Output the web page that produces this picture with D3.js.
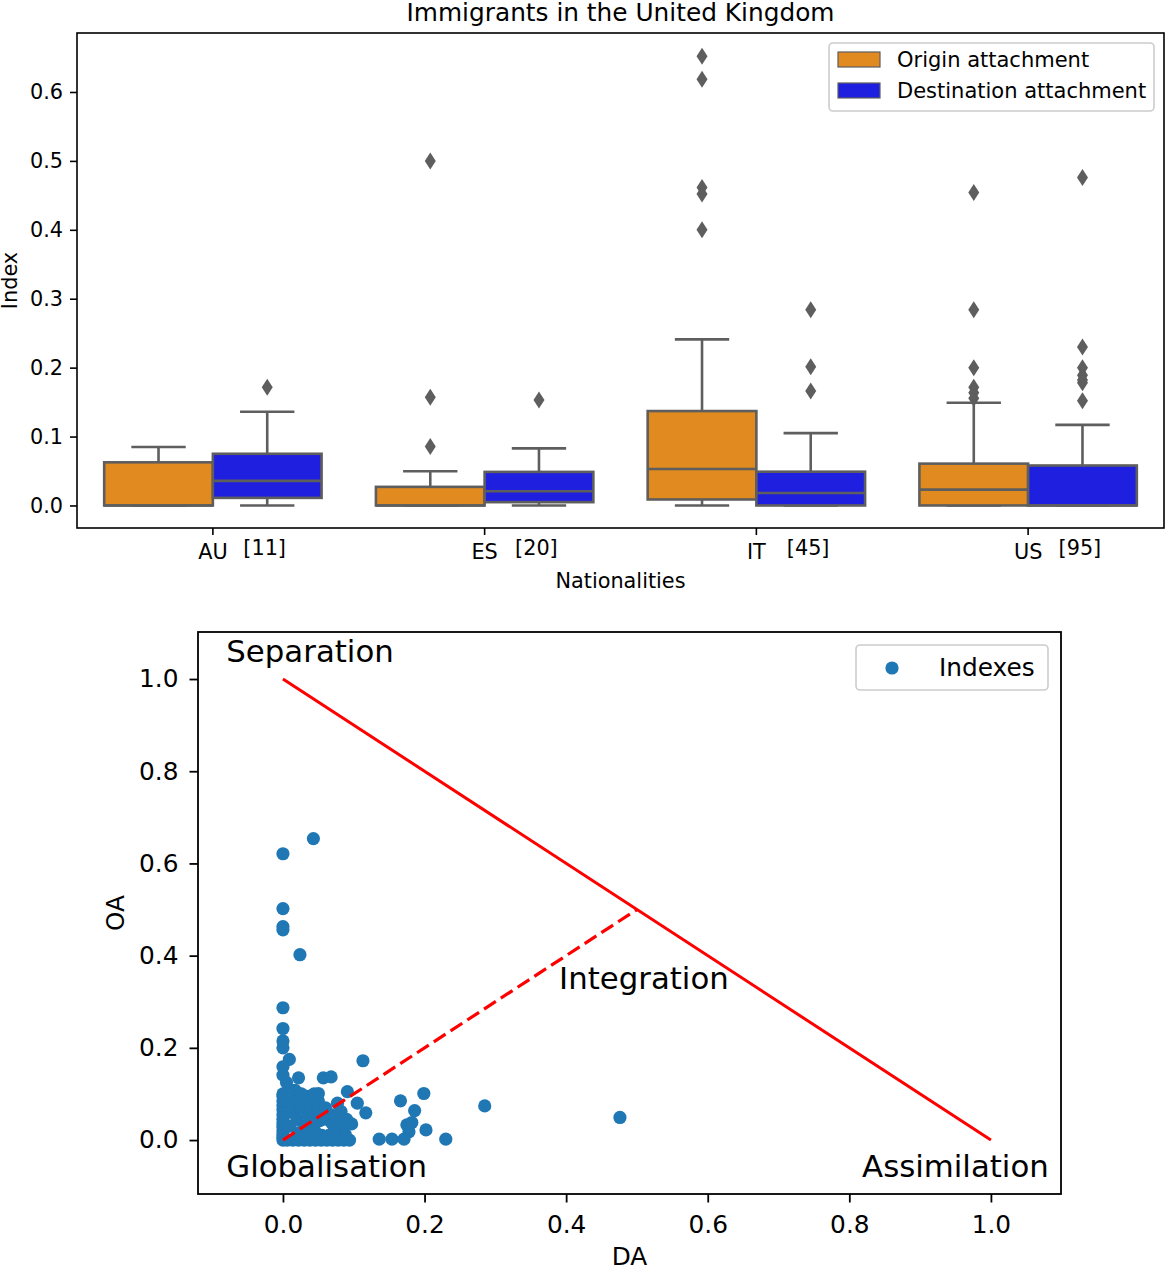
<!DOCTYPE html>
<html><head><meta charset="utf-8">
<script src="https://cdn.jsdelivr.net/npm/d3@7"></script>
<style>
body{margin:0;background:#fff}
svg{display:block}
text{font-family:"DejaVu Sans",sans-serif;fill:#000}
</style>
</head><body>
<svg id="c" width="1166" height="1269"></svg>
<script>
// ---------- DATA ----------
const categories = ["AU", "ES", "IT", "US"];
const categoryCounts = ["[11]", "[20]", "[45]", "[95]"];
const hueNames = ["Origin attachment", "Destination attachment"];
// box stats: [lowWhisker, q1, median, q3, highWhisker]
const originStats = [
  [0, 0, 0, 0.0626, 0.0848],
  [0, 0, 0, 0.027, 0.0496],
  [0, 0.0087, 0.053, 0.137, 0.241],
  [0, 0, 0.023, 0.0607, 0.149]
];
const destinationStats = [
  [0, 0.011, 0.0357, 0.075, 0.136],
  [0, 0.0048, 0.0207, 0.0487, 0.0828],
  [0, 0, 0.018, 0.049, 0.105],
  [0, 0, 0, 0.058, 0.117]
];
const originOutliers = [
  [],
  [0.0857, 0.157, 0.5],
  [0.4, 0.4518, 0.4614, 0.6185, 0.6517],
  [0.1556, 0.1637, 0.1715, 0.2, 0.284, 0.454]
];
const destinationOutliers = [
  [0.1715],
  [0.153],
  [0.166, 0.2013, 0.284],
  [0.152, 0.178, 0.182, 0.189, 0.2, 0.23, 0.476]
];
const topYTicks = [0.0, 0.1, 0.2, 0.3, 0.4, 0.5, 0.6];

// scatter (DA, OA)
const daValues = [
  0.043, 0, 0, 0, 0, 0.024, 0, 0, 0, 0, 0.009, 0, 0, 0.113, 0.022, 0.057, 0.068,
  0.017, 0.05, 0.091, 0.036, 0.166, 0.199, 0.105, 0.117, 0.077, 0.186, 0.057,
  0.175, 0.182, 0.178, 0.202, 0.136, 0.154, 0.171, 0.23, 0.097, 0.083, 0.085,
  0.285, 0.476,
  0, 0, 0, 0, 0, 0, 0, 0, 0, 0, 0, 0, 0,
  0.006, 0.014, 0.022, 0.03, 0.038, 0.046, 0.054, 0.062, 0.07, 0.078, 0.086, 0.094,
  0.01, 0.012, 0.015, 0.02, 0.022, 0.025, 0.03, 0.032, 0.035, 0.038, 0.04, 0.042,
  0.045, 0.048, 0.05, 0.052, 0.055, 0.06, 0.062, 0.065, 0.068, 0.07, 0.072, 0.075,
  0.08, 0.082, 0.088, 0.09, 0.026, 0.044, 0.008, 0.005
];
const oaValues = [
  0.654, 0.621, 0.502, 0.463, 0.456, 0.402, 0.287, 0.242, 0.215, 0.2, 0.175, 0.159, 0.141,
  0.172, 0.135, 0.135, 0.137,
  0.108, 0.101, 0.105, 0.095, 0.085, 0.101, 0.08, 0.059, 0.08, 0.064, 0.061,
  0.033, 0.038, 0.018, 0.022, 0.002, 0.002, 0.002, 0.002, 0.035, 0.043, 0.029,
  0.074, 0.049,
  0, 0.006, 0.012, 0.02, 0.028, 0.036, 0.045, 0.055, 0.065, 0.075, 0.085, 0.095, 0.1,
  0, 0, 0, 0, 0, 0, 0, 0, 0, 0, 0, 0,
  0.03, 0.06, 0.085, 0.045, 0.015, 0.07, 0.03, 0.09, 0.055, 0.012, 0.075, 0.038,
  0.02, 0.06, 0.085, 0.042, 0.01, 0.07, 0.045, 0.01, 0.055, 0.035, 0.012, 0.05,
  0.01, 0.062, 0.012, 0.045, 0.1, 0.1, 0.11, 0.125
];
const borderDA = [0, 1];
const borderOA = [1, 0];
const diagDA = [0, 0.5];
const diagOA = [0, 0.5];
const regionLabels = ["Separation", "Integration", "Globalisation", "Assimilation"];
const regionDA = [-0.08, 0.39, -0.08, 0.818];
const regionOA = [1.037, 0.3275, -0.08, -0.08];
const bottomTicks = [0.0, 0.2, 0.4, 0.6, 0.8, 1.0];

// ---------- STYLE ----------
const hueColors = ["#e08a1f", "#1f1fe0"];
const gray = "#5e5e5e";
const svg = d3.select("#c");

// ---------- TOP: BOXPLOT ----------
const T = {l: 77, r: 1164, t: 33, b: 528};
const xBand = d3.scaleBand().domain(categories).range([T.l, T.r]).padding(0);
const yTop = d3.scaleLinear().domain([-0.0327, 0.6856]).range([T.b, T.t]);
const bw = xBand.bandwidth();
const boxW = bw * 0.4;

const topG = svg.append("g");

const yAxT = topG.append("g").attr("transform", `translate(${T.l},0)`)
  .call(d3.axisLeft(yTop).tickValues(topYTicks).tickFormat(d3.format(".1f")).tickSize(7).tickPadding(7));
yAxT.select(".domain").remove();
yAxT.selectAll("line").attr("stroke", "#000").attr("stroke-width", 1.6);
yAxT.selectAll("text").attr("font-size", "20.8px").attr("font-family", "DejaVu Sans");

const xAxT = topG.append("g").attr("transform", `translate(0,${T.b})`)
  .call(d3.axisBottom(xBand).tickSize(7).tickPadding(9));
xAxT.select(".domain").remove();
xAxT.selectAll("line").attr("stroke", "#000").attr("stroke-width", 1.6);
xAxT.selectAll("text").attr("font-size", "20.8px").attr("font-family", "DejaVu Sans");

topG.selectAll("text.count").data(categories).join("text")
  .attr("class", "count")
  .attr("x", d => xBand(d) + bw / 2 + bw * 0.112)
  .attr("y", 555)
  .attr("font-size", "20.8px")
  .text((d, i) => categoryCounts[i]);

const groups = [originStats, destinationStats];
const outl = [originOutliers, destinationOutliers];
groups.forEach((stats, h) => {
  stats.forEach((s, i) => {
    const cx = xBand(categories[i]) + bw / 2;
    const x0 = cx - boxW + h * boxW;
    const mid = x0 + boxW / 2;
    const g = topG.append("g");
    g.append("line").attr("x1", mid).attr("x2", mid).attr("y1", yTop(s[0])).attr("y2", yTop(s[1]))
      .attr("stroke", gray).attr("stroke-width", 2.6);
    g.append("line").attr("x1", mid).attr("x2", mid).attr("y1", yTop(s[3])).attr("y2", yTop(s[4]))
      .attr("stroke", gray).attr("stroke-width", 2.6);
    [s[0], s[4]].forEach(v => {
      g.append("line").attr("x1", mid - boxW / 4).attr("x2", mid + boxW / 4)
        .attr("y1", yTop(v)).attr("y2", yTop(v)).attr("stroke", gray).attr("stroke-width", 2.6);
    });
    g.append("rect").attr("x", x0).attr("width", boxW)
      .attr("y", yTop(s[3])).attr("height", Math.max(0, yTop(s[1]) - yTop(s[3])))
      .attr("fill", hueColors[h]).attr("stroke", gray).attr("stroke-width", 2.6);
    g.append("line").attr("x1", x0).attr("x2", x0 + boxW).attr("y1", yTop(s[2])).attr("y2", yTop(s[2]))
      .attr("stroke", gray).attr("stroke-width", 2.6);
    g.selectAll("path.o").data(outl[h][i]).join("path")
      .attr("class", "o")
      .attr("d", "M0,-8.5L5.5,0L0,8.5L-5.5,0Z")
      .attr("transform", v => `translate(${mid},${yTop(v)})`)
      .attr("fill", gray);
  });
});

topG.append("rect").attr("x", T.l).attr("y", T.t).attr("width", T.r - T.l).attr("height", T.b - T.t)
  .attr("fill", "none").attr("stroke", "#000").attr("stroke-width", 1.6);

topG.append("text").attr("x", (T.l + T.r) / 2).attr("y", 21).attr("text-anchor", "middle")
  .attr("font-size", "24.8px").text("Immigrants in the United Kingdom");
topG.append("text").attr("x", (T.l + T.r) / 2).attr("y", 588).attr("text-anchor", "middle")
  .attr("font-size", "20.8px").text("Nationalities");
topG.append("text").attr("transform", `translate(17,${(T.t + T.b) / 2}) rotate(-90)`)
  .attr("text-anchor", "middle").attr("font-size", "20.8px").text("Index");

const lg = topG.append("g");
lg.append("rect").attr("x", 829).attr("y", 43).attr("width", 325).attr("height", 68).attr("rx", 4)
  .attr("fill", "#fff").attr("fill-opacity", 0.8).attr("stroke", "#cccccc").attr("stroke-width", 1.6);
hueNames.forEach((n, i) => {
  lg.append("rect").attr("x", 838).attr("y", 52 + i * 31).attr("width", 42).attr("height", 15)
    .attr("fill", hueColors[i]).attr("stroke", gray).attr("stroke-width", 1.2);
  lg.append("text").attr("x", 897).attr("y", 67 + i * 31).attr("font-size", "21px").text(n);
});

// ---------- BOTTOM: SCATTER ----------
const B = {l: 198, r: 1061, t: 632, b: 1194};
const xS = d3.scaleLinear().domain([-0.12, 1.099]).range([B.l, B.r]);
const yS = d3.scaleLinear().domain([-0.117, 1.102]).range([B.b, B.t]);
const bot = svg.append("g");

const xAxB = bot.append("g").attr("transform", `translate(0,${B.b})`)
  .call(d3.axisBottom(xS).tickValues(bottomTicks).tickFormat(d3.format(".1f")).tickSize(8.5).tickPadding(13));
xAxB.select(".domain").remove();
xAxB.selectAll("line").attr("stroke", "#000").attr("stroke-width", 1.8);
xAxB.selectAll("text").attr("font-size", "24.8px").attr("font-family", "DejaVu Sans");

const yAxB = bot.append("g").attr("transform", `translate(${B.l},0)`)
  .call(d3.axisLeft(yS).tickValues(bottomTicks).tickFormat(d3.format(".1f")).tickSize(8.5).tickPadding(11));
yAxB.select(".domain").remove();
yAxB.selectAll("line").attr("stroke", "#000").attr("stroke-width", 1.8);
yAxB.selectAll("text").attr("font-size", "24.8px").attr("font-family", "DejaVu Sans");

bot.selectAll("circle.pt").data(daValues.map((d, i) => [d, oaValues[i]])).join("circle")
  .attr("class", "pt")
  .attr("cx", d => xS(d[0])).attr("cy", d => yS(d[1])).attr("r", 6.6)
  .attr("fill", "#1f77b4");

const lineGen = d3.line().x(d => xS(d[0])).y(d => yS(d[1]));
bot.append("path").attr("d", lineGen(borderDA.map((d, i) => [d, borderOA[i]])))
  .attr("stroke", "#ff0000").attr("stroke-width", 3).attr("fill", "none");
bot.append("path").attr("d", lineGen(diagDA.map((d, i) => [d, diagOA[i]])))
  .attr("stroke", "#ff0000").attr("stroke-width", 3.2).attr("fill", "none")
  .attr("stroke-dasharray", "14,6");

regionLabels.forEach((t, i) => {
  bot.append("text").attr("x", xS(regionDA[i])).attr("y", yS(regionOA[i]))
    .attr("font-size", "30.8px").text(t);
});

bot.append("rect").attr("x", B.l).attr("y", B.t).attr("width", B.r - B.l).attr("height", B.b - B.t)
  .attr("fill", "none").attr("stroke", "#000").attr("stroke-width", 1.8);

bot.append("text").attr("x", (B.l + B.r) / 2).attr("y", 1265).attr("text-anchor", "middle")
  .attr("font-size", "24.8px").text("DA");
bot.append("text").attr("transform", `translate(124,${(B.t + B.b) / 2}) rotate(-90)`)
  .attr("text-anchor", "middle").attr("font-size", "24.8px").text("OA");

const lb = bot.append("g");
lb.append("rect").attr("x", 856).attr("y", 645).attr("width", 192).attr("height", 45).attr("rx", 4)
  .attr("fill", "#fff").attr("fill-opacity", 0.8).attr("stroke", "#cccccc").attr("stroke-width", 1.6);
lb.append("circle").attr("cx", 892).attr("cy", 668).attr("r", 6.6).attr("fill", "#1f77b4");
lb.append("text").attr("x", 939).attr("y", 676).attr("font-size", "24.8px").text("Indexes");
</script>
</body></html>
